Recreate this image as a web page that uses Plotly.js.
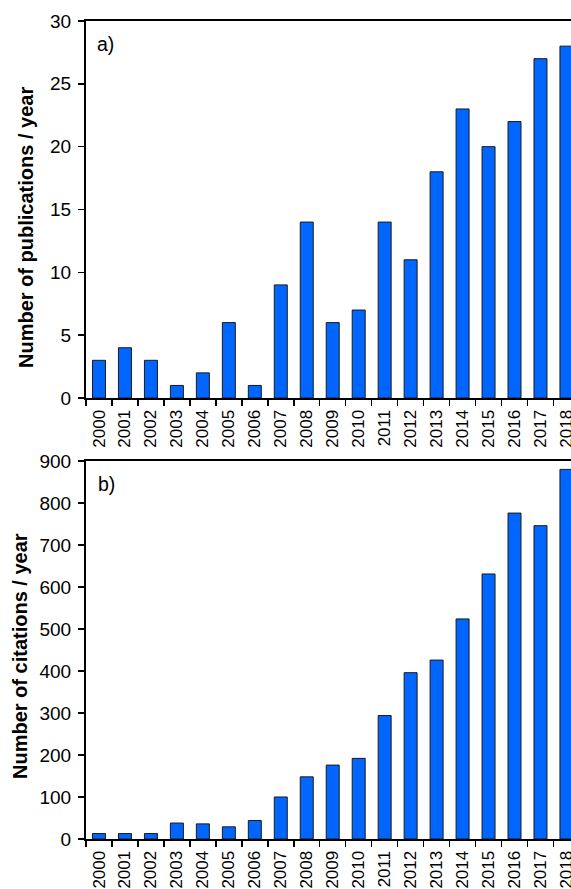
<!DOCTYPE html>
<html>
<head>
<meta charset="utf-8">
<script src="https://cdn.plot.ly/plotly-3.0.1.min.js"></script>
<style>
html,body{margin:0;padding:0;background:#fff;overflow:hidden;}
#chart{width:571px;height:889px;}
</style>
</head>
<body>
<div id="chart"></div>
<script>
const years = ['2000','2001','2002','2003','2004','2005','2006','2007','2008','2009','2010','2011','2012','2013','2014','2015','2016','2017','2018'];
const publications = [3,4,3,1,2,6,1,9,14,6,7,14,11,18,23,20,22,27,28];
const citations = [13,13,13,38,36,29,44,100,148,176,192,294,396,426,524,631,776,746,880];
const pubTicks = [0,5,10,15,20,25,30];
const citTicks = [0,100,200,300,400,500,600,700,800,900];
const pubTitle = 'Number of publications / year';
const citTitle = 'Number of citations / year';

const barColor = '#0066ff';
const barLine = {color:'#1a1a1a', width:1};

const data = [
  {type:'bar', x:years, y:publications, xaxis:'x', yaxis:'y',
   marker:{color:barColor, line:barLine}, hoverinfo:'x+y'},
  {type:'bar', x:years, y:citations, xaxis:'x2', yaxis:'y2',
   marker:{color:barColor, line:barLine}, hoverinfo:'x+y'}
];

const xBase = {
  type:'category', range:[-0.5, 18.175], showline:true, linewidth:2, linecolor:'#000',
  mirror:true, ticks:'outside', tickson:'boundaries', ticklen:6, tickwidth:1.5, tickcolor:'#000',
  tickangle:-90, tickfont:{size:17, color:'#000'}, ticklabelstandoff:3,
  showgrid:false, zeroline:false, fixedrange:true
};
const yBase = {
  showline:true, linewidth:2, linecolor:'#000', ticks:'outside', ticklen:6, tickwidth:1.5,
  tickcolor:'#000', tickfont:{size:19, color:'#000'}, ticklabelstandoff:3,
  showgrid:false, zeroline:false, fixedrange:true
};

const titleFont = {size:20, weight:'bold', color:'#000'};

const layout = {
  width:571, height:889,
  margin:{l:86, r:0, t:0, b:0},
  bargap:0.5,
  showlegend:false,
  paper_bgcolor:'#fff', plot_bgcolor:'#fff',
  font:{family:'"Liberation Sans", Arial, sans-serif', color:'#000'},
  xaxis: Object.assign({}, xBase, {domain:[0,1], anchor:'y'}),
  xaxis2: Object.assign({}, xBase, {domain:[0,1], anchor:'y2'}),
  yaxis: Object.assign({}, yBase, {domain:[0.5523,0.97638], anchor:'x', range:[0,30],
    tickvals:pubTicks, ticktext:pubTicks.map(String)}),
  yaxis2: Object.assign({}, yBase, {domain:[0.05624,0.48144], anchor:'x2', range:[0,900],
    tickvals:citTicks, ticktext:citTicks.map(String)}),
  annotations:[
    {text:pubTitle, xref:'paper', yref:'paper', x:(26-86)/485, y:1-228/889, xanchor:'center', yanchor:'middle',
     textangle:-90, showarrow:false, font:titleFont},
    {text:citTitle, xref:'paper', yref:'paper', x:(20-86)/485, y:1-656/889, xanchor:'center', yanchor:'middle',
     textangle:-90, showarrow:false, font:titleFont},
    {text:'a)', xref:'x domain', yref:'y domain', x:0.041, y:0.939, xanchor:'center', yanchor:'middle',
     showarrow:false, font:{size:19.5, color:'#000'}},
    {text:'b)', xref:'x2 domain', yref:'y2 domain', x:0.043, y:0.939, xanchor:'center', yanchor:'middle',
     showarrow:false, font:{size:19.5, color:'#000'}}
  ]
};

Plotly.newPlot('chart', data, layout, {displayModeBar:false, staticPlot:true});
</script>
</body>
</html>
